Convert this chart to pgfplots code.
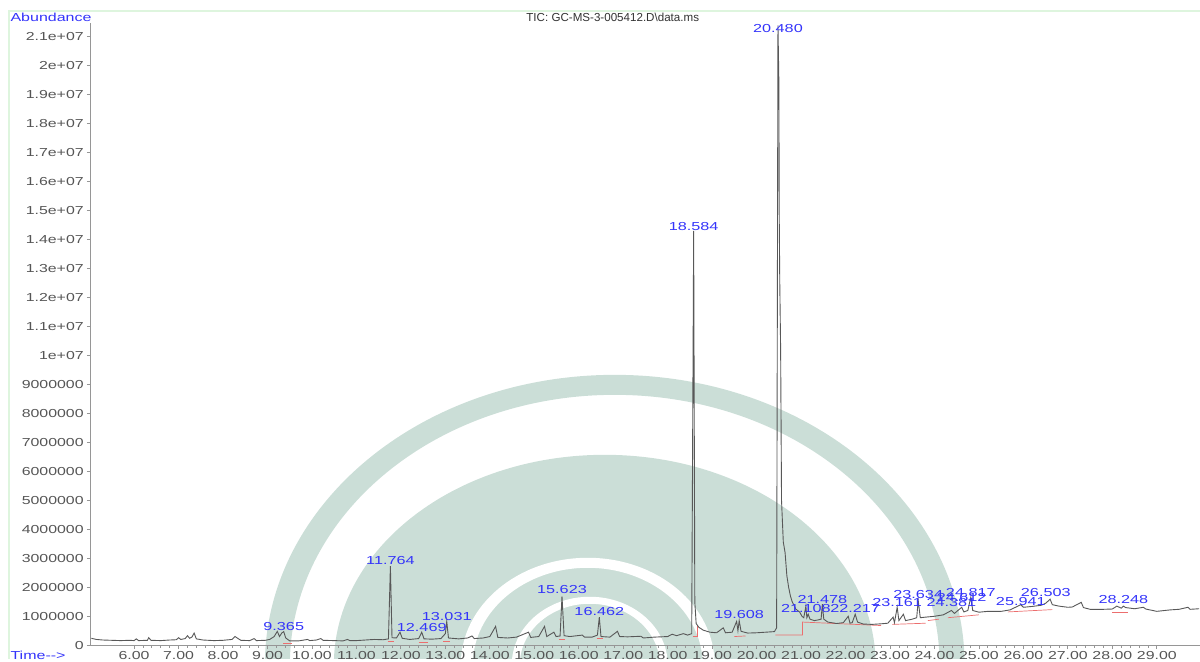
\documentclass[border=0pt]{standalone}
\usepackage{fontspec}
\setmainfont{Liberation Sans}
\usepackage{pgfplots}
\usepackage{pgfplotstable}
\pgfplotsset{compat=1.18}

\definecolor{trace}{RGB}{88,88,88}
\definecolor{peakblue}{RGB}{52,52,250}
\definecolor{ticktext}{RGB}{85,85,85}
\definecolor{titlegrey}{RGB}{50,50,50}
\definecolor{axisgrey}{RGB}{150,150,150}
\definecolor{framegreen}{RGB}{222,245,222}
\definecolor{wm}{RGB}{203,222,215}
\definecolor{intred}{RGB}{236,110,110}

\newcommand{\lbl}{\fontsize{5.8}{6.5}\selectfont}

% total ion chromatogram: retention time (min), abundance
\pgfplotstableread{
t a
5.04 240000
5.15 200000
5.30 180000
5.50 170000
5.70 160000
5.90 170000
6.00 160000
6.05 220000
6.10 160000
6.30 170000
6.33 260000
6.38 170000
6.60 160000
6.80 180000
6.95 190000
7.00 260000
7.05 200000
7.15 230000
7.20 330000
7.25 240000
7.30 280000
7.35 420000
7.40 220000
7.55 180000
7.80 160000
8.00 170000
8.20 200000
8.27 300000
8.32 250000
8.40 170000
8.60 160000
8.70 230000
8.75 160000
8.95 170000
9.05 200000
9.15 300000
9.22 480000
9.27 300000
9.32 420000
9.365 470000
9.41 250000
9.50 150000
9.70 150000
9.90 200000
9.95 160000
10.10 180000
10.20 230000
10.25 170000
10.50 160000
10.70 150000
10.80 200000
10.85 160000
11.00 160000
11.20 180000
11.40 200000
11.60 190000
11.72 220000
11.764 2730000
11.80 260000
11.90 250000
11.98 450000
12.03 240000
12.20 200000
12.40 230000
12.469 450000
12.52 220000
12.70 210000
12.90 230000
13.00 400000
13.031 830000
13.07 250000
13.30 220000
13.50 250000
13.60 320000
13.65 230000
13.85 250000
14.00 300000
14.13 650000
14.18 270000
14.40 250000
14.60 280000
14.87 450000
14.92 270000
15.10 300000
15.23 650000
15.28 300000
15.44 450000
15.49 300000
15.58 320000
15.623 1690000
15.67 330000
15.80 300000
16.08 350000
16.13 280000
16.30 280000
16.42 350000
16.462 970000
16.50 300000
16.70 280000
16.87 480000
16.92 300000
17.10 290000
17.40 310000
17.45 250000
17.70 280000
18.00 300000
18.10 380000
18.20 330000
18.35 400000
18.45 350000
18.54 400000
18.584 14300000
18.61 1500000
18.64 750000
18.70 620000
18.80 520000
18.95 450000
19.10 430000
19.25 600000
19.30 430000
19.45 450000
19.55 820000
19.58 500000
19.608 850000
19.65 480000
19.80 420000
20.00 430000
20.20 450000
20.40 470000
20.45 600000
20.48 21400000
20.50 19500000
20.51 14500000
20.52 12600000
20.54 10200000
20.56 5000000
20.60 3560000
20.64 3200000
20.68 2400000
20.72 2000000
20.76 1700000
20.80 1500000
20.88 1250000
20.97 1140000
21.02 1000000
21.06 950000
21.108 1350000
21.13 950000
21.16 1070000
21.20 900000
21.30 850000
21.40 880000
21.45 900000
21.478 1420000
21.51 900000
21.60 800000
21.80 750000
21.95 780000
22.06 1000000
22.10 760000
22.15 780000
22.217 1070000
22.27 800000
22.40 730000
22.60 720000
22.80 740000
22.95 760000
23.07 970000
23.10 780000
23.161 1310000
23.20 850000
23.30 1070000
23.35 850000
23.50 900000
23.60 950000
23.634 1550000
23.68 950000
23.80 970000
24.00 1000000
24.20 1050000
24.381 1200000
24.45 1100000
24.612 1310000
24.66 1150000
24.75 1200000
24.817 1660000
24.86 1200000
25.00 1140000
25.20 1170000
25.50 1170000
25.70 1220000
25.941 1400000
26.00 1310000
26.20 1340000
26.40 1380000
26.503 1450000
26.60 1590000
26.65 1400000
26.80 1350000
27.00 1310000
27.10 1320000
27.30 1480000
27.35 1300000
27.50 1240000
27.80 1240000
28.00 1250000
28.10 1350000
28.20 1280000
28.248 1350000
28.30 1300000
28.50 1260000
28.70 1310000
28.75 1250000
29.00 1170000
29.30 1220000
29.50 1240000
29.70 1310000
29.75 1240000
29.95 1260000
}\tic

% retention-time label above a peak: time, abundance, lift in px
\newcommand{\pk}[3]{\node[font=\lbl, text=peakblue, xscale=1.4, inner sep=0pt, yshift=#3*0.5pt] at (axis cs:#1,#2) {#1};}

\begin{document}
\begin{tikzpicture}
% page furniture on a pixel grid (0.5pt per unit, y downward)
\begin{scope}[x=0.5pt,y=-0.5pt]
  \path[use as bounding box] (0,0) rectangle (1200,659);
  \begin{scope}
    \clip (0,0) rectangle (1200,659);
    \fill[wm, even odd rule] (615,665) ellipse [x radius=350, y radius=290]
                             (615,665) ellipse [x radius=325, y radius=270];
    \fill[wm] (605,665) ellipse [x radius=271, y radius=210];
    \fill[white, even odd rule] (588,665) ellipse [x radius=127, y radius=107]
                                (588,665) ellipse [x radius=115, y radius=97];
    \fill[white, even odd rule] (590,665) ellipse [x radius=78, y radius=68]
                                (590,665) ellipse [x radius=70, y radius=61];
  \end{scope}
  \draw[framegreen, line width=0.6pt] (9,659) -- (9,11) -- (1200,11);
  \node[font=\lbl, text=peakblue, xscale=1.38, anchor=west, inner sep=0pt] at (10,17) {Abundance};
  \node[font=\lbl, text=titlegrey, inner sep=0pt] at (613,17) {TIC: GC-MS-3-005412.D\textbackslash data.ms};
  \node[font=\lbl, text=peakblue, xscale=1.38, anchor=west, inner sep=0pt] at (10,656) {Time-{}-{}>};
\end{scope}

\begin{axis}[
  at={(45.5pt,-322.75pt)}, anchor=south west,
  scale only axis, width=554.5pt, height=311.25pt,
  xmin=5.03, xmax=29.96, ymin=0, ymax=21480000,
  axis x line*=bottom, axis y line*=left,
  axis line style={draw=axisgrey, line width=0.5pt, -},
  tick align=outside,
  major tick length=2pt, minor tick length=1.2pt,
  tick style={draw=axisgrey, line width=0.4pt},
  xtick={6,7,8,9,10,11,12,13,14,15,16,17,18,19,20,21,22,23,24,25,26,27,28,29},
  xticklabels={6.00,7.00,8.00,9.00,10.00,11.00,12.00,13.00,14.00,15.00,16.00,17.00,18.00,19.00,20.00,21.00,22.00,23.00,24.00,25.00,26.00,27.00,28.00,29.00},
  minor x tick num=4,
  ytick={0,1000000,2000000,3000000,4000000,5000000,6000000,7000000,8000000,9000000,10000000,11000000,12000000,13000000,14000000,15000000,16000000,17000000,18000000,19000000,20000000,21000000},
  yticklabels={0,1000000,2000000,3000000,4000000,5000000,6000000,7000000,8000000,9000000,1e+07,1.1e+07,1.2e+07,1.3e+07,1.4e+07,1.5e+07,1.6e+07,1.7e+07,1.8e+07,1.9e+07,2e+07,2.1e+07},
  tick label style={font=\lbl, text=ticktext, xscale=1.37},
  yticklabel style={inner sep=1pt},
  xticklabel style={inner sep=1pt},
  scaled y ticks=false,
  clip=false,
]
% integration baselines
\addplot[intred, line width=0.35pt] coordinates {(9.35,80000) (9.55,80000)};
\addplot[intred, line width=0.35pt] coordinates {(11.70,150000) (11.85,150000)};
\addplot[intred, line width=0.35pt] coordinates {(12.40,100000) (12.60,100000)};
\addplot[intred, line width=0.35pt] coordinates {(12.95,120000) (13.10,120000)};
\addplot[intred, line width=0.35pt] coordinates {(15.55,220000) (15.70,220000)};
\addplot[intred, line width=0.35pt] coordinates {(16.40,230000) (16.55,230000)};
\addplot[intred, line width=0.35pt] coordinates {(18.56,300000) (18.66,300000) (18.66,700000)};
\addplot[intred, line width=0.35pt] coordinates {(19.50,300000) (19.75,320000)};
\addplot[intred, line width=0.35pt] coordinates {(20.42,350000) (21.03,350000) (21.03,800000) (22.80,680000)};
\addplot[intred, line width=0.35pt] coordinates {(23.05,720000) (23.80,760000)};
\addplot[intred, line width=0.35pt] coordinates {(23.85,850000) (24.10,900000)};
\addplot[intred, line width=0.35pt] coordinates {(24.30,950000) (25.00,1050000)};
\addplot[intred, line width=0.35pt] coordinates {(25.65,1150000) (26.65,1230000)};
\addplot[intred, line width=0.35pt] coordinates {(28.00,1150000) (28.35,1150000)};
% chromatogram trace
\addplot[trace, line width=0.45pt] table[x=t, y=a] {\tic};
% peak labels
\pk{9.365}{470000}{5}
\pk{11.764}{2730000}{5.4}
\pk{12.469}{450000}{4.5}
\pk{13.031}{830000}{4.4}
\pk{15.623}{1690000}{6.5}
\pk{16.462}{970000}{5.4}
\pk{18.584}{14300000}{4}
\pk{19.608}{850000}{6}
\pk{20.480}{21400000}{-3.7}
\pk{21.108}{1350000}{-2.6}
\pk{22.217}{1070000}{5.5}
\pk{21.478}{1420000}{5}
\pk{23.161}{1310000}{4.5}
\pk{24.381}{1200000}{7.7}
\pk{23.634}{1550000}{5.6}
\pk{24.612}{1310000}{9.5}
\pk{24.817}{1660000}{4.4}
\pk{25.941}{1400000}{3}
\pk{26.503}{1450000}{10.5}
\pk{28.248}{1350000}{6.4}
\end{axis}
\end{tikzpicture}
\end{document}
